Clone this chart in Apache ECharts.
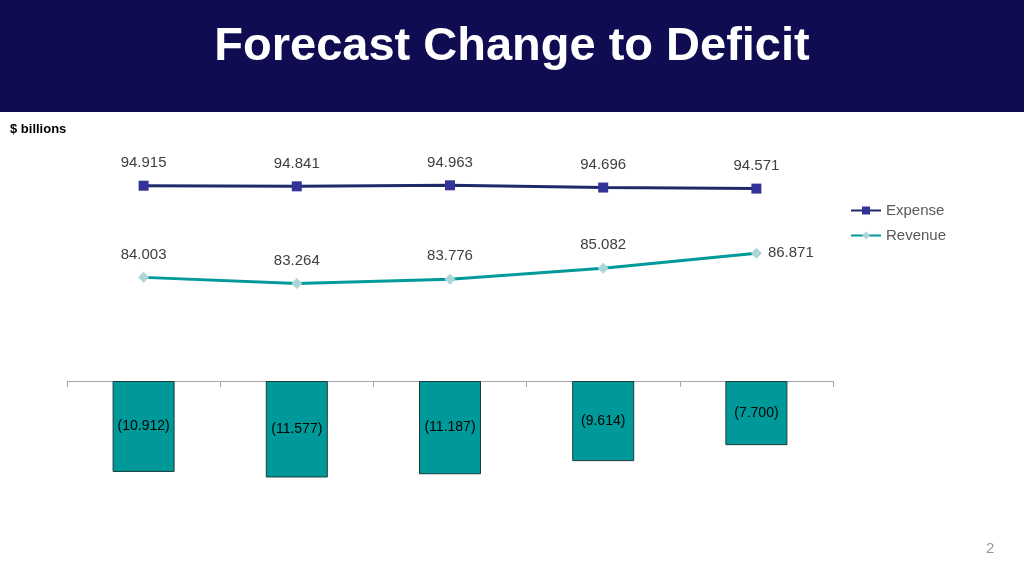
<!DOCTYPE html>
<html>
<head>
<meta charset="utf-8">
<script src="https://cdn.jsdelivr.net/npm/echarts@6/dist/echarts.min.js"></script>
<style>
  html, body { margin: 0; padding: 0; background: #fff; }
  #chart { width: 1024px; height: 574px; }
</style>
</head>
<body>
<div id="chart"></div>
<script>
// data
const categories = ['Budget 2025', 'Q1', 'Q2', 'Q3', 'Public Accounts']
const expense = [94.915, 94.841, 94.963, 94.696, 94.571]
const revenue = [84.003, 83.264, 83.776, 85.082, 86.871]
const deficit = [-10.912, -11.577, -11.187, -9.614, -7.700]

const chart = echarts.init(document.getElementById('chart'))
const fmt = (v) => v.toFixed(3)

// last revenue label sits to the right of its point
const revenueData = revenue.map((v, i) => i === revenue.length - 1
  ? { value: v, label: { position: 'right', distance: 6 } }
  : v)

chart.setOption({
  animation: false,
  textStyle: { fontFamily: 'Liberation Sans, Arial, sans-serif' },
  graphic: [
    { type: 'rect', left: 0, top: 0, shape: { width: 1024, height: 112 }, style: { fill: '#100c52' } },
    {
      type: 'text', left: 'center', top: 24,
      style: { text: 'Forecast Change to Deficit', fill: '#fff', font: 'bold 47px Liberation Sans, Arial, sans-serif' },
    },
    {
      type: 'text', left: 10, top: 123,
      style: { text: '$ billions', fill: '#000', font: 'bold 13px Liberation Sans, Arial, sans-serif' },
    },
    {
      type: 'text', left: 986, top: 541,
      style: { text: '2', fill: '#999', font: '15px Liberation Sans, Arial, sans-serif' },
    },
  ],
  legend: {
    orient: 'vertical', left: 845, top: 198, itemGap: 10, itemWidth: 30, itemHeight: 10,
    textStyle: { color: '#595959', fontSize: 15 },
    data: ['Expense', 'Revenue'],
  },
  grid: [
    { left: 67, width: 766, top: 143, height: 168, outerBoundsMode: 'none' },
    { left: 67, width: 766, top: 381, height: 100, outerBoundsMode: 'none' },
  ],
  xAxis: [
    { gridIndex: 0, type: 'category', data: categories, show: false },
    {
      gridIndex: 1, type: 'category', data: categories,
      axisLine: { onZero: true, lineStyle: { color: '#a6a6a6' } },
      axisTick: { show: true, length: 6, lineStyle: { color: '#a6a6a6' } },
      axisLabel: { margin: 107, color: '#000', fontSize: 14 },
    },
  ],
  yAxis: [
    { gridIndex: 0, type: 'value', min: 80, max: 100, show: false, splitLine: { show: false } },
    { gridIndex: 1, type: 'value', min: -12, max: 0, show: false, splitLine: { show: false } },
  ],
  series: [
    {
      name: 'Expense', type: 'line', xAxisIndex: 0, yAxisIndex: 0, data: expense,
      symbol: 'rect', symbolSize: 10,
      lineStyle: { color: '#1f2a6b', width: 3 },
      itemStyle: { color: '#333399' },
      label: { show: true, position: 'top', distance: 10, color: '#404040', fontSize: 15, formatter: (p) => fmt(p.value) },
    },
    {
      name: 'Revenue', type: 'line', xAxisIndex: 0, yAxisIndex: 0, data: revenueData,
      symbol: 'diamond', symbolSize: 11,
      lineStyle: { color: '#009999', width: 3 },
      itemStyle: { color: '#a9d6d6' },
      label: {
        show: true, position: 'top', distance: 10, color: '#404040', fontSize: 15,
        formatter: (p) => fmt(p.value),
      },
    },
    {
      name: 'Deficit', type: 'bar', xAxisIndex: 1, yAxisIndex: 1, data: deficit,
      barWidth: 62,
      itemStyle: { color: '#009999', borderColor: '#1a3a3a', borderWidth: 1 },
      label: {
        show: true, position: 'inside', color: '#000', fontSize: 14,
        formatter: (p) => '(' + fmt(-p.value) + ')',
      },
    },
  ],
})
</script>
</body>
</html>
